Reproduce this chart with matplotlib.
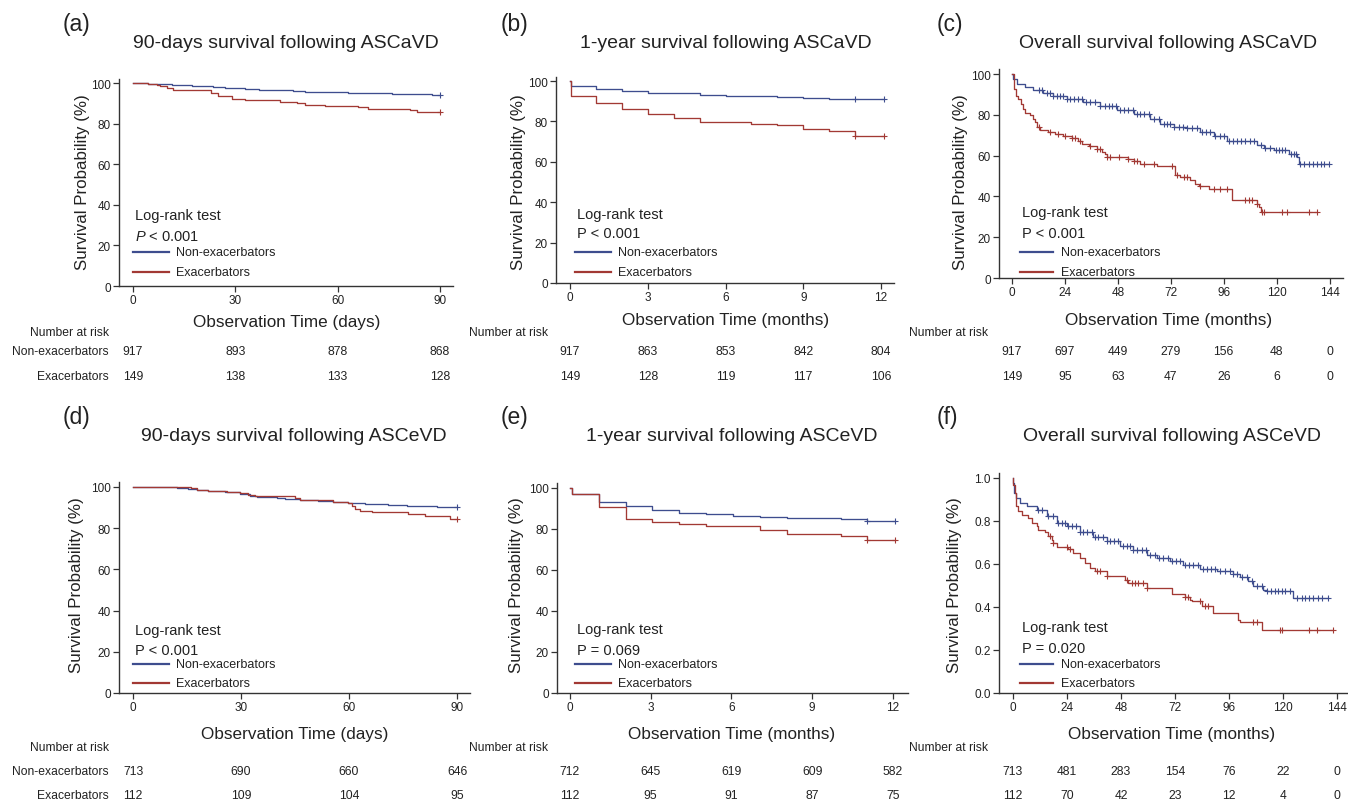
"""Kaplan-Meier panels: survival after ASCaVD / ASCeVD, exacerbators vs non-exacerbators."""
import numpy as np
import matplotlib
matplotlib.use('Agg')
import matplotlib.pyplot as plt
from matplotlib.lines import Line2D
from matplotlib.transforms import blended_transform_factory

plt.rcParams['font.family'] = ['Liberation Sans', 'DejaVu Sans']
plt.rcParams['mathtext.fontset'] = 'custom'
plt.rcParams['mathtext.it'] = 'Liberation Sans:italic'
plt.rcParams['mathtext.rm'] = 'Liberation Sans'

W, H = 1348, 803
C_NON = '#3e4d8e'
C_EXA = '#a23934'
C_TXT = '#222222'
C_AX = '#333333'

GROUPS = ['Non-exacerbators', 'Exacerbators']

# ---- (a) 90-days, ASCaVD ----
A_T_NON = [0, 4.5, 11.3, 17.2, 23.5, 27.0, 32.8, 36.8, 47.0, 50.4, 58.2, 63.1, 75.8, 81.7, 87.6, 90]
A_S_NON = [100, 99.7, 99.2, 98.4, 97.9, 97.5, 97.0, 96.6, 96.2, 95.7, 95.4, 95.1, 94.8, 94.4, 94.3, 94.3]
A_T_EXA = [0, 4.5, 6.9, 7.9, 9.9, 11.8, 22.9, 25.0, 28.9, 32.8, 43.0, 48.0, 50.4, 56.3, 66.0, 69.0, 81.2, 83.2, 90]
A_S_EXA = [100, 99.7, 99.2, 98.4, 97.5, 96.6, 95.1, 93.4, 92.3, 91.5, 90.6, 90.0, 89.3, 88.7, 88.0, 87.4, 86.6, 85.8, 85.8]
A_C_NON = [90]
A_C_EXA = [90]
A_TICKS = [0, 30, 60, 90]
A_RISK_NON = [917, 893, 878, 868]
A_RISK_EXA = [149, 138, 133, 128]

# ---- (b) 1-year, ASCaVD ----
B_T_NON = [0, 0.03, 1, 2, 3, 4, 5, 6, 7, 8, 9, 10, 11, 12.1]
B_S_NON = [100, 97.5, 96.0, 94.9, 94.2, 93.9, 93.2, 92.7, 92.4, 91.9, 91.6, 91.2, 90.9, 90.9]
B_T_EXA = [0, 0.03, 1, 2, 3, 4, 5, 7, 8, 9, 10, 11, 12.1]
B_S_EXA = [100, 92.6, 89.3, 86.0, 83.7, 81.7, 79.7, 78.9, 78.2, 76.1, 75.4, 72.8, 72.8]
B_C_NON = [11, 12.1]
B_C_EXA = [11, 12.1]
B_TICKS = [0, 3, 6, 9, 12]
B_RISK_NON = [917, 863, 853, 842, 804]
B_RISK_EXA = [149, 128, 119, 117, 106]

# ---- (c) overall, ASCaVD ----
C_T_NON = [0, 0.3, 2.1, 5.9, 9.7, 14.2, 18.8, 24.8, 32.4, 39.9, 47.5, 55.1, 62.7, 67.2, 73.3,
           79.3, 85.4, 91.4, 97.5, 111.1, 114.2, 118.7, 125.5, 129.3, 130.1, 143.7]
C_S_NON = [100, 97.7, 95.2, 93.6, 92.3, 90.7, 89.1, 87.7, 86.3, 84.5, 82.5, 80.6, 78.1, 75.3, 74.0,
           73.5, 71.6, 69.5, 67.2, 65.0, 63.7, 62.6, 60.6, 59.3, 56.0, 56.0]
C_T_EXA = [0, 0.9, 1.8, 2.9, 3.9, 4.8, 5.9, 8.2, 9.7, 10.4, 11.2, 12.7, 16.5, 19.5, 23.3, 27.1,
           30.1, 31.6, 34.7, 38.5, 40.7, 42.2, 43.0, 52.8, 55.1, 58.1, 65.7, 74.0, 76.3, 80.9,
           83.1, 84.6, 89.2, 99.8, 111.1, 111.9, 112.7, 138.4]
C_S_EXA = [100, 92.8, 89.5, 87.9, 85.5, 83.0, 80.9, 79.7, 78.1, 76.5, 74.0, 72.7, 71.6, 70.8, 69.4, 68.6,
           67.2, 65.5, 64.9, 63.4, 61.8, 60.6, 59.3, 58.5, 57.2, 55.7, 54.7, 50.3, 49.5, 47.9,
           46.3, 44.9, 43.6, 38.1, 36.4, 34.8, 32.3, 32.3]
C_C_NON = [12.4, 13.5, 15.8, 17.3, 18.8, 20.3, 21.8, 23.3, 24.8, 26.3, 27.9, 29.7, 31.6, 33.6, 35.4,
           37.7, 39.9, 42.2, 43.8, 45.3, 47.2, 49.1, 50.9, 52.8, 54.8, 56.6, 58.1, 60.0, 61.9, 64.2,
           66.5, 68.7, 70.3, 71.8, 73.3, 75.6, 77.5, 79.3, 81.6, 83.9, 86.2, 88.1, 89.9, 92.2, 94.5,
           96.3, 98.3, 100.2, 102.1, 103.9, 105.8, 107.8, 109.6, 112.7, 114.9, 117.2, 119.5, 121.0,
           122.5, 124.0, 126.3, 127.8, 128.9, 130.8, 132.6, 134.6, 136.4, 138.4, 140.2, 141.7, 143.7]
C_C_EXA = [12.4, 17.3, 21.0, 24.1, 27.1, 28.6, 30.9, 35.4, 38.5, 40.0, 43.0, 44.5, 48.3, 52.8, 55.1,
           56.6, 59.7, 64.2, 72.5, 74.8, 77.8, 79.3, 85.4, 91.4, 94.5, 97.5, 105.8, 107.4, 108.9,
           111.1, 113.4, 114.2, 122.5, 124.8, 134.6, 138.4]
C_TICKS = [0, 24, 48, 72, 96, 120, 144]
C_RISK_NON = [917, 697, 449, 279, 156, 48, 0]
C_RISK_EXA = [149, 95, 63, 47, 26, 6, 0]

# ---- (d) 90-days, ASCeVD ----
D_T_NON = [0, 12.1, 15.4, 17.7, 20.9, 25.5, 29.7, 32.5, 34.4, 39.9, 42.2, 46.4, 51.5, 55.6, 59.8,
           64.4, 68.1, 70.9, 76.0, 84.3, 90]
D_S_NON = [100, 99.5, 99.0, 98.5, 98.1, 97.4, 96.8, 95.8, 95.3, 94.8, 94.2, 93.7, 93.2, 92.6, 92.2,
           91.9, 91.6, 91.1, 90.8, 90.5, 90.5]
D_T_EXA = [0, 16.1, 17.7, 20.9, 26.0, 29.7, 32.0, 33.9, 45.0, 46.4, 55.6, 59.8, 60.7, 61.7, 63.1,
           66.3, 76.5, 81.1, 88.1, 90]
D_S_EXA = [100, 99.4, 98.7, 98.2, 97.4, 97.1, 96.3, 95.5, 94.7, 93.7, 92.9, 92.2, 90.6, 89.3, 88.5,
           87.7, 86.9, 85.8, 84.5, 84.5]
D_C_NON = [90]
D_C_EXA = [90]
D_TICKS = [0, 30, 60, 90]
D_RISK_NON = [713, 690, 660, 646]
D_RISK_EXA = [112, 109, 104, 95]

# ---- (e) 1-year, ASCeVD ----
E_T_NON = [0, 0.06, 1.08, 2.08, 3.06, 4.05, 5.05, 6.07, 7.06, 8.05, 9.04, 10.07, 11.05, 12.07]
E_S_NON = [100, 97.1, 93.0, 91.1, 89.0, 87.6, 87.1, 86.5, 86.0, 85.5, 85.2, 84.7, 83.8, 83.8]
E_T_EXA = [0, 0.06, 1.08, 2.08, 3.06, 4.05, 5.05, 7.06, 8.05, 10.07, 11.05, 12.07]
E_S_EXA = [100, 97.1, 90.6, 84.9, 83.3, 82.4, 81.3, 79.5, 77.5, 76.7, 74.7, 74.7]
E_C_NON = [11.05, 12.07]
E_C_EXA = [11.05, 12.07]
E_TICKS = [0, 3, 6, 9, 12]
E_RISK_NON = [712, 645, 619, 609, 582]
E_RISK_EXA = [112, 95, 91, 87, 75]

# ---- (f) overall, ASCeVD ----
F_T_NON = [0, 0.1, 0.44, 1.33, 3.1, 6.1, 10.5, 15.0, 19.4, 23.9, 29.8, 35.7, 41.6, 47.6, 53.5,
           59.4, 63.9, 69.8, 75.7, 83.1, 90.5, 97.9, 100.9, 104.6, 106.8, 111.3, 112.7, 124.6, 140.1]
F_S_NON = [1.0, 0.977, 0.93, 0.907, 0.884, 0.868, 0.853, 0.822, 0.791, 0.775, 0.747, 0.726, 0.705,
           0.682, 0.667, 0.643, 0.628, 0.612, 0.594, 0.577, 0.566, 0.553, 0.540, 0.519, 0.496,
           0.481, 0.473, 0.442, 0.442]
F_T_EXA = [0, 0.15, 0.89, 1.33, 2.37, 3.85, 6.8, 8.3, 10.5, 11.3, 14.2, 15.7, 17.2, 17.9, 19.4,
           24.6, 26.8, 29.8, 32.0, 34.2, 36.4, 41.6, 49.8, 51.3, 59.4, 70.5, 76.4, 78.7, 79.4,
           83.9, 89.0, 100.1, 100.9, 110.5, 142.4]
F_S_EXA = [1.0, 0.966, 0.930, 0.868, 0.845, 0.830, 0.814, 0.791, 0.775, 0.757, 0.747, 0.729, 0.713,
           0.698, 0.679, 0.670, 0.651, 0.628, 0.605, 0.581, 0.566, 0.543, 0.524, 0.512, 0.488,
           0.462, 0.446, 0.434, 0.426, 0.403, 0.372, 0.341, 0.330, 0.292, 0.292]
F_C_NON = [11.3, 12.7, 15.7, 17.9, 20.1, 21.6, 23.1, 24.6, 26.1, 28.0, 29.8, 31.3, 33.0, 35.0, 36.4,
           37.9, 40.1, 41.6, 43.1, 44.9, 46.8, 48.7, 50.5, 52.0, 53.5, 55.3, 57.2, 59.1, 60.9, 63.1,
           65.0, 66.8, 68.7, 70.5, 72.4, 74.2, 76.4, 78.4, 80.1, 82.4, 84.3, 86.1, 87.8, 89.8, 92.0,
           94.2, 96.4, 97.9, 99.7, 101.6, 103.9, 106.1, 108.3, 110.5, 112.7, 114.5, 116.4, 117.9,
           119.4, 120.9, 123.1, 126.1, 128.3, 129.8, 131.3, 133.5, 135.7, 137.2, 140.1]
F_C_EXA = [16.4, 17.9, 23.9, 25.3, 37.2, 38.7, 41.6, 50.5, 52.7, 54.2, 55.7, 57.9, 59.4, 76.4, 77.9,
           83.1, 85.3, 86.8, 106.8, 108.3, 118.7, 119.4, 131.3, 135.0, 142.4]
F_TICKS = [0, 24, 48, 72, 96, 120, 144]
F_RISK_NON = [713, 481, 283, 154, 76, 22, 0]
F_RISK_EXA = [112, 70, 42, 23, 12, 4, 0]

TITLES = ['90-days survival following ASCaVD', '1-year survival following ASCaVD',
          'Overall survival following ASCaVD', '90-days survival following ASCeVD',
          '1-year survival following ASCeVD', 'Overall survival following ASCeVD']
XLABELS = ['Observation Time (days)', 'Observation Time (months)', 'Observation Time (months)'] * 2
PVALUES = [r'$P$ < 0.001', 'P < 0.001', 'P < 0.001', 'P < 0.001', 'P = 0.069', 'P = 0.020']
LETTERS = ['(a)', '(b)', '(c)', '(d)', '(e)', '(f)']

fig = plt.figure(figsize=(W / 100, H / 100), dpi=100)


def fx(x):
    return x / W


def fy(y):
    return 1 - y / H


def surv_at(t, times, surv):
    i = np.searchsorted(times, t, side='right') - 1
    return np.asarray(surv)[i]


# layout in pixels: axes box (left, top, right, bottom), limits, text anchors
layout = [
    dict(box=(119, 80, 453, 287), xlim=(-4.1, 93.8), ytop=102.0, title=(286, 43), letter=(76, 24),
         xlab=(287, 323), ylab=(82, 182), leg=(135, 216, 237, 253, 273, 169, 176),
         risk=(333, 352, 377), nar_x=109, rowlab=True),
    dict(box=(556, 78, 894, 284), xlim=(-0.54, 12.5), ytop=102.0, title=(726, 43), letter=(514, 24),
         xlab=(726, 321), ylab=(518, 182), leg=(577, 215, 234, 253, 273, 611, 618),
         risk=(333, 352, 377), nar_x=469, rowlab=False),
    dict(box=(999, 70, 1343, 279), xlim=(-5.9, 150.1), ytop=102.5, title=(1168, 43), letter=(950, 24),
         xlab=(1169, 320), ylab=(960, 182), leg=(1022, 213, 234, 253, 273, 1053, 1061),
         risk=(333, 352, 377), nar_x=909, rowlab=False),
    dict(box=(119, 483, 470, 694), xlim=(-3.9, 93.6), ytop=102.4, title=(294, 437), letter=(76, 418),
         xlab=(295, 735), ylab=(77, 585), leg=(135, 631, 651, 665, 684, 169, 176),
         risk=(748, 772, 796), nar_x=109, rowlab=True),
    dict(box=(557, 484, 908, 694), xlim=(-0.48, 12.56), ytop=102.4, title=(732, 437), letter=(514, 418),
         xlab=(732, 735), ylab=(516, 585), leg=(577, 630, 651, 665, 684, 611, 618),
         risk=(748, 772, 796), nar_x=469, rowlab=False),
    dict(box=(999, 474, 1347, 694), xlim=(-6.2, 148.4), ytop=1.023, title=(1172, 437), letter=(947, 418),
         xlab=(1172, 735), ylab=(955, 585), leg=(1022, 628, 649, 665, 684, 1053, 1061),
         risk=(748, 772, 796), nar_x=909, rowlab=False),
]

series = [
    (A_T_NON, A_S_NON, A_T_EXA, A_S_EXA, A_C_NON, A_C_EXA, A_TICKS, A_RISK_NON, A_RISK_EXA),
    (B_T_NON, B_S_NON, B_T_EXA, B_S_EXA, B_C_NON, B_C_EXA, B_TICKS, B_RISK_NON, B_RISK_EXA),
    (C_T_NON, C_S_NON, C_T_EXA, C_S_EXA, C_C_NON, C_C_EXA, C_TICKS, C_RISK_NON, C_RISK_EXA),
    (D_T_NON, D_S_NON, D_T_EXA, D_S_EXA, D_C_NON, D_C_EXA, D_TICKS, D_RISK_NON, D_RISK_EXA),
    (E_T_NON, E_S_NON, E_T_EXA, E_S_EXA, E_C_NON, E_C_EXA, E_TICKS, E_RISK_NON, E_RISK_EXA),
    (F_T_NON, F_S_NON, F_T_EXA, F_S_EXA, F_C_NON, F_C_EXA, F_TICKS, F_RISK_NON, F_RISK_EXA),
]

for k, (lay, ser) in enumerate(zip(layout, series)):
    t_non, s_non, t_exa, s_exa, c_non, c_exa, ticks, r_non, r_exa = ser
    l, t, r, b = lay['box']
    ax = fig.add_axes([fx(l), fy(b), (r - l) / W, (b - t) / H])
    ax.patch.set_alpha(0)

    for tt, ss, cc, col in [(t_non, s_non, c_non, C_NON), (t_exa, s_exa, c_exa, C_EXA)]:
        ax.step(tt, ss, where='post', color=col, lw=0.95)
        ax.plot(cc, [surv_at(c, tt, ss) for c in cc], '+', color=col, ms=4.5, mew=0.8)

    ax.set_xlim(*lay['xlim'])
    ax.set_ylim(0, lay['ytop'])
    ax.set_xticks(ticks)
    if k == 5:
        ax.set_yticks([0, 0.2, 0.4, 0.6, 0.8, 1.0])
        ax.set_yticklabels([f'{v:.1f}' for v in [0, 0.2, 0.4, 0.6, 0.8, 1.0]])
    else:
        ax.set_yticks([0, 20, 40, 60, 80, 100])
    for s in ['top', 'right']:
        ax.spines[s].set_visible(False)
    for s in ['left', 'bottom']:
        ax.spines[s].set_color(C_AX)
        ax.spines[s].set_linewidth(1.0)
    ax.tick_params(direction='out', length=4, width=0.9, color=C_AX, labelsize=8.5,
                   labelcolor=C_TXT, pad=2)

    # titles and labels
    fig.text(fx(lay['title'][0]), fy(lay['title'][1]), TITLES[k], ha='center', va='center',
             fontsize=14, color=C_TXT)
    fig.text(fx(lay['letter'][0]), fy(lay['letter'][1]), LETTERS[k], ha='center', va='center',
             fontsize=16.5, color=C_TXT)
    fig.text(fx(lay['xlab'][0]), fy(lay['xlab'][1]), XLABELS[k], ha='center', va='center',
             fontsize=12.3, color=C_TXT)
    fig.text(fx(lay['ylab'][0]), fy(lay['ylab'][1]), 'Survival Probability (%)', ha='center',
             va='center', rotation=90, fontsize=12.2, color=C_TXT)

    # legend block
    lx, ly1, ly2, ll1, ll2, lx2, ltx = lay['leg']
    fig.text(fx(lx), fy(ly1), 'Log-rank test', ha='left', va='center', fontsize=10.5, color=C_TXT)
    fig.text(fx(lx), fy(ly2), PVALUES[k], ha='left', va='center', fontsize=10.5, color=C_TXT)
    for yy, col, name in [(ll1, C_NON, GROUPS[0]), (ll2, C_EXA, GROUPS[1])]:
        fig.add_artist(Line2D([fx(lx - 2), fx(lx2)], [fy(yy), fy(yy)], color=col, lw=1.6,
                              transform=fig.transFigure))
        fig.text(fx(ltx), fy(yy), name, ha='left', va='center', fontsize=9, color=C_TXT)

    # number at risk table
    ny, r1, r2 = lay['risk']
    ha = 'right' if lay['rowlab'] else 'left'
    fig.text(fx(lay['nar_x']), fy(ny), 'Number at risk', ha=ha, va='center', fontsize=8.7,
             color=C_TXT)
    if lay['rowlab']:
        fig.text(fx(lay['nar_x']), fy(r1), GROUPS[0], ha='right', va='center', fontsize=8.7,
                 color=C_TXT)
        fig.text(fx(lay['nar_x']), fy(r2), GROUPS[1], ha='right', va='center', fontsize=8.7,
                 color=C_TXT)
    trans = blended_transform_factory(ax.transData, fig.transFigure)
    for x, n1, n2 in zip(ticks, r_non, r_exa):
        ax.text(x, fy(r1), str(n1), transform=trans, ha='center', va='center', fontsize=8.7,
                color=C_TXT, clip_on=False)
        ax.text(x, fy(r2), str(n2), transform=trans, ha='center', va='center', fontsize=8.7,
                color=C_TXT, clip_on=False)

fig.savefig('out.png', dpi=100)
print('Saved out.png')
